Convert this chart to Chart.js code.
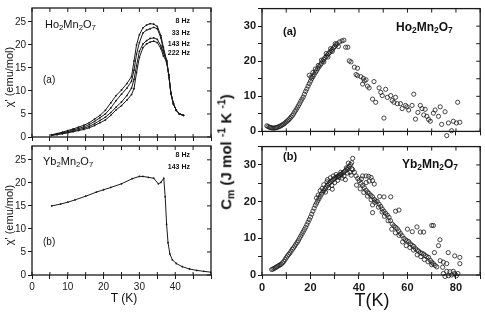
<!DOCTYPE html>
<html>
<head>
<meta charset="utf-8">
<script src="https://cdn.jsdelivr.net/npm/chart.js@4.4.1/dist/chart.umd.min.js"></script>
<style>
  body { margin: 0; background: #fff; }
  #fig { position: relative; width: 485px; height: 313px; overflow: hidden; font-family: "Liberation Sans", Arial, sans-serif; color: #111; }
  .box { position: absolute; }
  .lbl { position: absolute; white-space: nowrap; line-height: 1; }
  .hz { font-size: 7px; font-weight: bold; text-align: right; }
  .b { font-weight: bold; }
  .rot { transform: translate(-50%, -50%) rotate(-90deg); }
  .ctr { transform: translate(-50%, -50%); }
  sub { font-size: 70%; vertical-align: -0.25em; }
  sup { font-size: 70%; vertical-align: 0.6em; }
</style>
</head>
<body>
<div id="fig">
  <div class="box" style="left:0;top:0;width:215px;height:145px"><canvas id="chiHo" width="215" height="145"></canvas></div>
  <div class="box" style="left:0;top:138px;width:215px;height:175px"><canvas id="chiYb" width="215" height="175"></canvas></div>
  <div class="box" style="left:222px;top:0;width:263px;height:140px"><canvas id="cmHo" width="263" height="140"></canvas></div>
  <div class="box" style="left:222px;top:138px;width:263px;height:175px"><canvas id="cmYb" width="263" height="175"></canvas></div>

  <div class="lbl" style="left:45px;top:19px;font-size:11px">Ho<sub>2</sub>Mn<sub>2</sub>O<sub>7</sub></div>
  <div class="lbl" style="left:43px;top:75px;font-size:10px">(a)</div>
  <div class="lbl hz" style="right:295px;top:17px">8 Hz</div>
  <div class="lbl hz" style="right:295px;top:29px">33 Hz</div>
  <div class="lbl hz" style="right:295px;top:40px">143 Hz</div>
  <div class="lbl hz" style="right:295px;top:49px">222 Hz</div>

  <div class="lbl" style="left:43px;top:156px;font-size:11px">Yb<sub>2</sub>Mn<sub>2</sub>O<sub>7</sub></div>
  <div class="lbl" style="left:43px;top:237px;font-size:10px">(b)</div>
  <div class="lbl hz" style="right:295px;top:151px">8 Hz</div>
  <div class="lbl hz" style="right:295px;top:163px">143 Hz</div>

  <div class="lbl b" style="left:283px;top:26px;font-size:11px">(a)</div>
  <div class="lbl b" style="left:396px;top:21px;font-size:12px">Ho<sub>2</sub>Mn<sub>2</sub>O<sub>7</sub></div>
  <div class="lbl b" style="left:283px;top:151px;font-size:11px">(b)</div>
  <div class="lbl b" style="left:402px;top:158px;font-size:12px">Yb<sub>2</sub>Mn<sub>2</sub>O<sub>7</sub></div>

  <div class="lbl rot" style="left:9px;top:77px;font-size:11px">χ' (emu/mol)</div>
  <div class="lbl rot" style="left:9px;top:215px;font-size:11px">χ' (emu/mol)</div>
  <div class="lbl rot b" style="left:226px;top:152px;font-size:15px">C<sub>m</sub> (J mol <sup>-1</sup> K <sup>-1</sup>)</div>
  <div class="lbl ctr" style="left:124px;top:298px;font-size:12px">T (K)</div>
  <div class="lbl ctr" style="left:372px;top:300px;font-size:18px">T(K)</div>
</div>
<script>
// chi' of Ho2Mn2O7 at four frequencies
const hoChiT = [5.5, 7, 8.5, 10, 11.5, 13, 14.5, 16, 17.5, 19, 20.5, 22, 23.5, 25, 26.5, 27.8, 28.5, 29.2, 30, 31, 32, 33, 34, 35, 36, 36.7, 37.6, 38.2, 38.8, 39.5, 40.3, 41.2, 42.3];
const hoChi8 = [0.5, 0.75, 1.05, 1.4, 1.75, 2.15, 2.55, 3.1, 3.9, 4.7, 5.8, 7.4, 9.0, 10.2, 11.6, 13.1, 16.5, 20.0, 22.2, 23.7, 24.3, 24.6, 24.5, 24.0, 22.0, 19.5, 16.6, 13.5, 9.5, 7.2, 5.8, 5.0, 4.7];
const hoChi33 = [0.45, 0.65, 0.9, 1.2, 1.55, 1.85, 2.2, 2.7, 3.4, 4.2, 5.0, 6.3, 7.9, 9.3, 10.6, 12.1, 14.5, 18.0, 20.5, 22.6, 23.2, 23.5, 23.8, 23.5, 21.5, 18.8, 16.5, 13.5, 9.5, 7.2, 5.8, 5.0, 4.7];
const hoChi143 = [0.4, 0.6, 0.8, 1.0, 1.3, 1.6, 1.9, 2.3, 2.9, 3.6, 4.3, 5.3, 6.5, 7.6, 9.0, 10.6, 12.5, 15.5, 18.6, 20.2, 20.9, 21.4, 21.5, 21.2, 19.8, 18.3, 16.5, 13.5, 9.5, 7.2, 5.8, 5.0, 4.7];
const hoChi222 = [0.35, 0.5, 0.7, 0.9, 1.15, 1.4, 1.65, 2.0, 2.5, 3.1, 3.7, 4.7, 5.9, 6.8, 8.0, 9.2, 10.5, 14.0, 17.3, 19.4, 20.2, 20.6, 20.8, 20.5, 19.2, 17.6, 16.3, 13.5, 9.5, 7.2, 5.8, 5.0, 4.7];

// chi' of Yb2Mn2O7
const ybChiT = [5.5, 8, 10, 12, 15, 18, 20, 22, 25, 28, 30, 31, 32.5, 34, 35.3, 36, 36.8, 37.2, 37.6, 38, 38.5, 39.2, 40.3, 42, 44, 46, 48, 50];
const ybChi = [15.0, 15.4, 15.8, 16.3, 17.1, 18.0, 18.5, 19.0, 19.8, 20.9, 21.4, 21.4, 21.2, 21.0, 19.8, 20.1, 21.0, 17.0, 11.0, 7.0, 4.6, 3.3, 2.5, 1.8, 1.3, 1.0, 0.8, 0.6];

// magnetic heat capacity of Ho2Mn2O7
const hoCmT = [2, 2.5, 3, 3.5, 4, 4.5, 5, 5.5, 6, 6.5, 7, 7.5, 8, 8.5, 9, 9.5, 10, 10.5, 11, 11.5, 12, 12.5, 13, 13.5, 14, 14.5, 15, 15.5, 16, 16.5, 17, 17.5, 18, 18.5, 19, 19.5, 20, 20.5, 21, 21.5, 22, 22.5, 23, 23.5, 24, 24.5, 25, 25.5, 26, 26.5, 27, 27.5, 28, 28.5, 29, 29.5, 30, 30.5, 31,
  19.5, 20.2, 21, 22, 23.2, 24.5, 25.5, 26.5, 27.2, 28.3, 29, 30.2, 31.5, 32, 33, 33.8, 34.5, 35.4,
  36.0, 36.7, 38.1, 39.4, 38.8, 39.4, 40.8, 41.8, 42.9, 42.2, 41.5, 43.5, 44.2, 46.2, 45.6, 46.9, 48.3, 49.0, 49.6, 51.0, 50.3, 51.7, 53.1, 53.7, 54.4, 55.1, 55.8, 57.1, 57.8, 59.2, 59.8, 60.5, 61.9, 62.6, 63.3, 64.3, 65.3, 66.0, 67.3, 66.7, 68.0, 68.7, 69.4, 70.7, 71.4, 72.8, 73.5, 74.1, 75.5, 76.2, 76.9, 78.2, 78.9, 80.2, 80.7, 81.6];
const hoCm = [1.6, 1.4, 1.2, 1.1, 1.0, 0.95, 0.95, 1.0, 1.1, 1.2, 1.35, 1.5, 1.7, 1.9, 2.1, 2.4, 2.7, 3.0, 3.3, 3.7, 4.1, 4.5, 5.0, 5.6, 6.1, 6.7, 7.3, 7.9, 8.6, 9.2, 9.8, 10.6, 11.4, 12.1, 12.9, 13.6, 14.3, 15.0, 15.6, 16.2, 16.8, 17.3, 17.9, 18.4, 18.9, 19.4, 20.0, 20.5, 21.0, 21.4, 21.8, 22.2, 22.6, 23.0, 23.4, 23.8, 24.2, 24.6, 25.0,
  16.0, 15.5, 16.8, 17.8, 18.8, 20.3, 19.8, 22.2, 21.2, 23.6, 22.8, 25.0, 24.2, 25.5, 25.8, 26.0, 24.0, 24.0,
  20.1, 19.8, 18.3, 18.0, 16.2, 15.9, 15.6, 15.1, 14.7, 14.4, 13.5, 12.9, 12.4, 14.2, 9.2, 8.3, 12.4, 11.1, 10.2, 12.0, 3.8, 9.7, 10.2, 8.8, 8.3, 9.7, 7.9, 7.9, 6.5, 7.4, 7.0, 6.1, 7.4, 10.6, 3.5, 5.4, 7.4, 6.5, 6.3, 4.7, 4.3, 3.4, 2.9, 5.2, 6.1, 4.3, 7.0, 2.0, 5.6, -1.2, 2.4, 0.2, 2.9, 2.4, 8.3, 2.6];

// magnetic heat capacity of Yb2Mn2O7
const ybCmT = [4, 4.5, 5, 5.5, 6, 6.5, 7, 7.5, 8, 8.5, 9, 9.5, 10, 10.5, 11, 11.5, 12, 12.5, 13, 13.5, 14, 14.5, 15, 15.5, 16, 16.5, 17, 17.5, 18, 18.5, 19, 19.5, 20, 20.5, 21, 21.5, 22, 22.5, 23, 23.5, 24, 24.5, 25, 25.5, 26, 26.5, 27, 27.5, 28, 28.5, 29, 29.5, 30, 30.5, 31, 31.5, 32, 32.5, 33, 33.5, 34, 34.5, 35, 35.5, 36, 36.5, 37,
  22.5, 23.2, 24, 24.8, 25.5, 26.2, 27, 27.5, 28.2, 28.8, 29.4, 30, 30.6, 31.2, 31.8, 32.5, 33, 33.8, 34.4, 35.2, 35.6, 36.3, 36.8, 37.4, 37.0, 34.8, 26.8, 29,
  37.4, 38.1, 38.8, 39.5, 40.1, 40.8, 41.5, 42.2, 42.9, 43.6, 44.2, 44.9, 45.6, 46.3, 47.0, 47.6, 48.3, 49.0, 49.6, 50.3, 51.0, 51.7, 52.4, 53.0, 53.7, 54.4, 55.1, 55.8, 56.4, 57.1, 57.8, 58.5, 59.2, 59.8, 60.5, 61.2, 61.9, 62.6, 63.3, 64.0, 64.6, 65.3, 66.0, 66.7, 67.3, 68.0, 68.7, 69.4, 70.0, 70.7, 71.4, 72.1,
  39, 40.5, 42, 43.5, 45, 46.5, 48, 49.5, 50.5, 52, 53.5, 55, 56.5, 58, 59.5, 61, 62.5, 64, 65.5, 67, 68.5, 70,
  41.5, 42.9, 44, 45, 45.6, 46.3, 44.2, 43, 41,
  45.6, 45.6, 48.5, 50.3, 53.1, 55.1, 56.5, 60, 62, 63.9, 65.3, 66.7, 70, 70.7, 73.4, 72.8, 71.1, 73.5, 74.8, 76.2, 74.5, 76.8, 79.5, 81.6, 81.6, 74.1,
  74.8, 76.2, 77.5, 78.2, 79.5, 80.2, 75.5, 76.9, 78.9, 80.8];
const ybCm = [1.5, 1.6, 1.8, 2.0, 2.2, 2.4, 2.6, 2.8, 3.0, 3.3, 3.7, 4.2, 4.7, 5.2, 5.6, 6.0, 6.5, 7.0, 7.4, 7.9, 8.4, 8.9, 9.4, 10.0, 10.6, 11.2, 11.8, 12.4, 13.0, 13.7, 14.4, 15.1, 15.8, 16.6, 17.4, 18.2, 19.0, 19.6, 20.2, 20.8, 21.4, 22.0, 22.6, 23.0, 23.5, 24.0, 24.4, 24.8, 25.2, 25.5, 25.8, 26.1, 26.3, 26.6, 26.8, 27.0, 27.2, 27.4, 27.6, 27.9, 28.2, 28.5, 28.8, 29.2, 29.6, 30.1, 30.6,
  21.0, 21.8, 23.0, 23.6, 24.6, 22.6, 26.0, 23.8, 26.5, 24.4, 27.0, 25.2, 27.4, 25.8, 26.6, 28.0, 26.4, 27.0, 26.0, 27.8, 30.5, 28.0, 27.2, 31.8, 29.0, 29.2, 25.4, 23.4,
  28.7, 28.0, 27.0, 26.3, 25.7, 25.0, 24.4, 23.8, 23.1, 22.6, 22.2, 21.7, 21.3, 20.6, 20.2, 20.0, 19.3, 18.7, 18.0, 17.4, 16.8, 16.3, 15.7, 14.8, 13.9, 13.4, 13.0, 12.6, 12.0, 11.3, 10.7, 10.0, 9.6, 9.3, 9.1, 8.5, 8.1, 7.8, 7.2, 6.8, 6.5, 6.1, 5.9, 5.7, 5.3, 5.0, 4.8, 4.0, 3.5, 3.1, 2.6, 2.2,
  24.5, 23.5, 22.5, 21.5, 20.5, 19.8, 18.5, 17.2, 16.0, 14.8, 12.5, 11.5, 10.8, 9.0, 8.0, 7.5, 6.8, 5.5, 5.0, 4.2, 3.6, 2.8,
  27.0, 27.0, 26.9, 26.6, 25.7, 24.8, 25.6, 25.2, 26.2,
  19.1, 17.0, 21.4, 21.3, 21.3, 17.4, 17.7, 12.5, 11.8, 13.1, 11.7, 11.7, 13.5, 13.5, 9.6, 8.0, 6.1, 3.9, 3.5, 3.1, 2.1, 6.1, 5.2, 4.8, 3.1, -1.7,
  0.4, 1.0, 0.9, 0.0, 0.4, -0.2, -0.4, -0.2, 1.0, 0.4];

const INK = "#1a1a1a";
const pts = (xs, ys) => xs.map((x, i) => ({ x, y: ys[i] }));

const frame = {
  id: "frame",
  afterDraw(chart) {
    const { ctx, chartArea: a, scales } = chart;
    ctx.save();
    ctx.strokeStyle = INK;
    ctx.lineWidth = 1.3;
    ctx.strokeRect(a.left, a.top, a.right - a.left, a.bottom - a.top);
    ctx.lineWidth = 1;
    ctx.beginPath();
    scales.x.ticks.forEach((t) => {
      const px = scales.x.getPixelForValue(t.value);
      ctx.moveTo(px, a.top);
      ctx.lineTo(px, a.top + 4);
      ctx.moveTo(px, a.bottom);
      ctx.lineTo(px, a.bottom - 3);
    });
    scales.y.ticks.forEach((t) => {
      const py = scales.y.getPixelForValue(t.value);
      ctx.moveTo(a.right, py);
      ctx.lineTo(a.right - 4, py);
    });
    ctx.stroke();
    ctx.restore();
  },
};

const axis = (min, max, step, every, showLabels, size, font) => ({
  type: "linear",
  min,
  max,
  grid: { drawOnChartArea: false, color: INK, tickLength: 4, tickColor: INK },
  border: { display: false },
  ticks: {
    display: showLabels,
    stepSize: step,
    includeBounds: false,
    autoSkip: false,
    maxRotation: 0,
    color: INK,
    padding: 2,
    font,
    callback: (v) => (v % every === 0 && v < max ? v : ""),
  },
  afterFit: (s) => {
    if (s.isHorizontal()) s.height = size;
    else s.width = size;
  },
});

const makeChart = (id, datasets, x, y, padding) =>
  new Chart(document.getElementById(id), {
    data: { datasets },
    options: {
      responsive: false,
      animation: false,
      layout: { padding },
      plugins: { legend: { display: false }, tooltip: { enabled: false } },
      scales: { x, y },
    },
    plugins: [frame],
  });

const chiLine = (xs, ys) => ({
  type: "line",
  data: pts(xs, ys),
  borderColor: INK,
  borderWidth: 1,
  pointRadius: 0.9,
  pointBackgroundColor: INK,
  pointBorderWidth: 0,
  tension: 0,
});

const cmDots = (xs, ys) => ({
  type: "scatter",
  data: pts(xs, ys),
  borderColor: INK,
  backgroundColor: "rgba(0,0,0,0)",
  borderWidth: 0.8,
  pointRadius: 2.1,
  clip: false,
});

const smallFont = { family: "Liberation Sans, Arial", size: 10 };
const bigFont = { family: "Liberation Sans, Arial", size: 11, weight: "bold" };

makeChart(
  "chiHo",
  [chiLine(hoChiT, hoChi8), chiLine(hoChiT, hoChi33), chiLine(hoChiT, hoChi143), chiLine(hoChiT, hoChi222)],
  axis(0, 50, 5, 10, false, 5, smallFont),
  axis(0, 28, 5, 5, true, 32, smallFont),
  { left: 0, right: 4, top: 5, bottom: 0 }
);

makeChart(
  "chiYb",
  [chiLine(ybChiT, ybChi)],
  axis(0, 50, 5, 10, true, 38, smallFont),
  axis(0, 28, 5, 5, true, 32, smallFont),
  { left: 0, right: 4, top: 2, bottom: 0 }
);

makeChart(
  "cmHo",
  [cmDots(hoCmT, hoCm)],
  axis(0, 90, 10, 20, false, 4, bigFont),
  axis(0, 35, 5, 10, true, 40, bigFont),
  { left: 0, right: 3, top: 6, bottom: 0 }
);

makeChart(
  "cmYb",
  [cmDots(ybCmT, ybCm)],
  axis(0, 90, 10, 20, true, 38, bigFont),
  axis(0, 35, 5, 10, true, 40, bigFont),
  { left: 0, right: 3, top: 3, bottom: 0 }
);
</script>
</body>
</html>
